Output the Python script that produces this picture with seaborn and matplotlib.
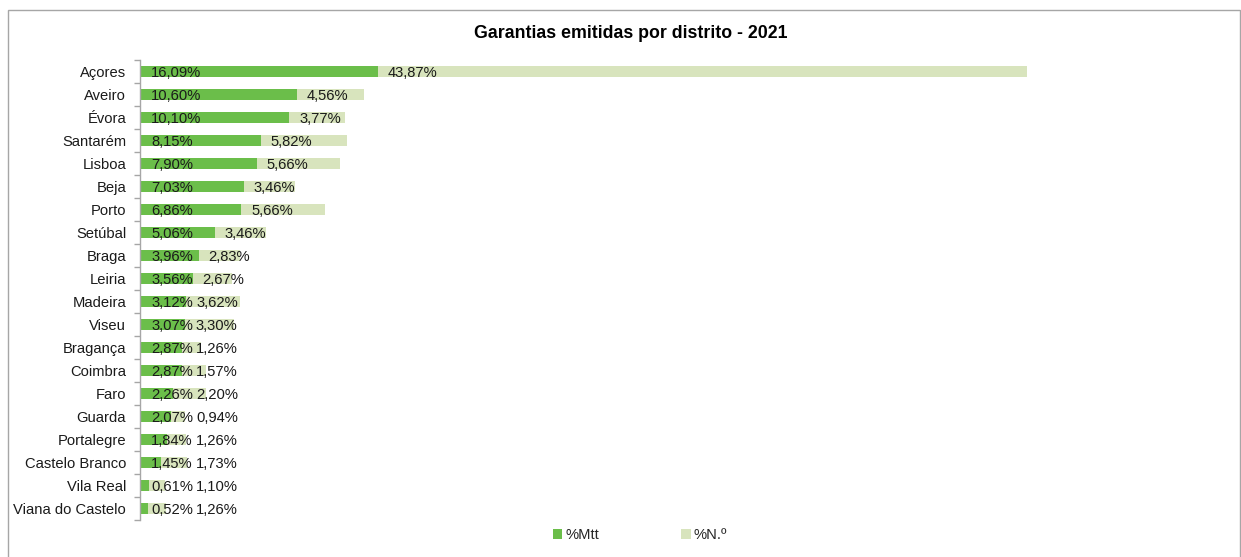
import matplotlib
matplotlib.use("Agg")
import matplotlib.pyplot as plt
from matplotlib.patches import Rectangle, Patch
import seaborn as sns
import pandas as pd

distritos = ["Açores", "Aveiro", "Évora", "Santarém", "Lisboa", "Beja", "Porto",
             "Setúbal", "Braga", "Leiria", "Madeira", "Viseu", "Bragança", "Coimbra",
             "Faro", "Guarda", "Portalegre", "Castelo Branco", "Vila Real",
             "Viana do Castelo"]
pct_mtt = [16.09, 10.60, 10.10, 8.15, 7.90, 7.03, 6.86, 5.06, 3.96, 3.56, 3.12,
           3.07, 2.87, 2.87, 2.26, 2.07, 1.84, 1.45, 0.61, 0.52]
pct_num = [43.87, 4.56, 3.77, 5.82, 5.66, 3.46, 5.66, 3.46, 2.83, 2.67, 3.62,
           3.30, 1.26, 1.57, 2.20, 0.94, 1.26, 1.73, 1.10, 1.26]
titulo = "Garantias emitidas por distrito - 2021"
serie_mtt = "%Mtt"
serie_num = "%N.º"

VERDE = "#6bbe4a"
VERDE_CLARO = "#d8e4bd"
FONTE = 10.6

sns.set_theme(style="white")
plt.rcParams["font.family"] = ["Liberation Sans", "DejaVu Sans"]

df = pd.DataFrame({"distrito": distritos, "mtt": pct_mtt, "num": pct_num})
df["total"] = df["mtt"] + df["num"]

W, H = 1241, 557
fig = plt.figure(figsize=(W / 100, H / 100), dpi=100)

# plot area in pixel coordinates
left, right, top, bottom = 140, 1175, 60, 520
ax = fig.add_axes([left / W, 1 - bottom / H, (right - left) / W, (bottom - top) / H])

sns.barplot(data=df, x="total", y="distrito", color=VERDE_CLARO, width=0.45,
            saturation=1, ax=ax, linewidth=0)
sns.barplot(data=df, x="mtt", y="distrito", color=VERDE, width=0.45,
            saturation=1, ax=ax, linewidth=0)

ax.set_xlim(0, 70)
ax.set_ylim(len(distritos) - 0.5, -0.5)
ax.set_xlabel("")
ax.set_ylabel("")
ax.set_xticks([])
for s in ["top", "right", "bottom"]:
    ax.spines[s].set_visible(False)
ax.spines["left"].set_color("#a6a6a6")
ax.spines["left"].set_linewidth(1)

# category labels, with tick marks on the category boundaries
ax.set_yticks(range(len(distritos)))
ax.set_yticklabels(distritos, fontsize=FONTE, color="#1a1a1a")
ax.set_yticks([i - 0.5 for i in range(len(distritos) + 1)], minor=True)
ax.tick_params(axis="y", which="major", left=False, length=0, pad=10)
ax.tick_params(axis="y", which="minor", left=True, length=4, width=1,
               color="#a6a6a6", direction="out")

def fmt(v):
    return f"{v:.2f}%".replace(".", ",")

fig.canvas.draw()
renderer = fig.canvas.get_renderer()
inv = ax.transData.inverted()
px = ax.transData.transform
for i, (m, n) in enumerate(zip(pct_mtt, pct_num)):
    t1 = ax.annotate(fmt(m), xy=(0, i), xytext=(11, 0), textcoords="offset pixels",
                     ha="left", va="center_baseline", fontsize=FONTE, color="#1a1a1a")
    bb = t1.get_window_extent(renderer)
    seg_px = px((m, i))[0] + 10
    x2 = max(seg_px, bb.x1 + 3)
    xd = inv.transform((x2, 0))[0]
    ax.text(xd, i, fmt(n), ha="left", va="center_baseline", fontsize=FONTE,
            color="#1a1a1a")

fig.text(631 / W, 1 - 33 / H, titulo, ha="center", va="center", fontsize=12.8,
         fontweight="bold", color="#000000")

handles = [Patch(facecolor=VERDE, edgecolor="none", label=serie_mtt),
           Patch(facecolor=VERDE_CLARO, edgecolor="none", label=serie_num)]
fig.legend(handles=handles, loc="center", bbox_to_anchor=(640 / W, 1 - 535 / H),
           ncol=2, frameon=False, fontsize=FONTE, handlelength=0.65,
           handleheight=0.65, handletextpad=0.2, columnspacing=5.6)

# chart frame
fig.patches.append(Rectangle((8 / W, -0.01), (1240 - 8) / W, 1 - 10 / H + 0.01,
                             transform=fig.transFigure, fill=False,
                             edgecolor="#a6a6a6", linewidth=1))

fig.savefig("out.png", dpi=100)
